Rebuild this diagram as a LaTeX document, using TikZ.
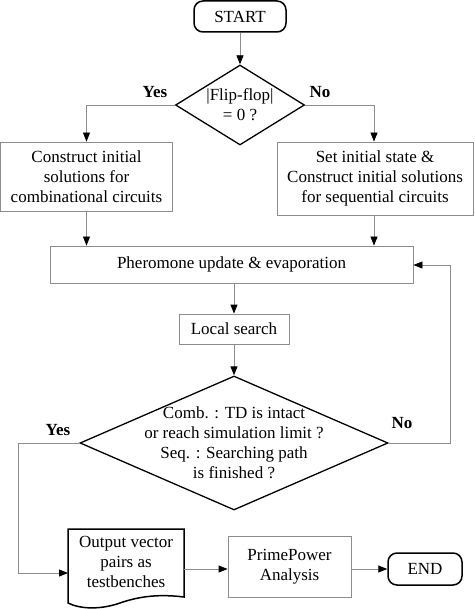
\documentclass[tikz,border=0pt]{standalone}
\usepackage{fontspec}
\setmainfont{Liberation Serif}
\usetikzlibrary{arrows.meta,shapes.geometric}
\begin{document}
\begin{tikzpicture}[x=1pt,y=-1pt,
  every node/.style={font=\fontsize{17}{20}\selectfont, align=center},
  box/.style={draw=black!45, line width=0.8pt, inner sep=0pt},
  term/.style={draw=black, line width=1.5pt, rounded corners=9pt, inner sep=0pt},
  dia/.style={draw=black, line width=1.3pt, diamond, inner sep=0pt},
  conn/.style={draw=black!45, line width=0.8pt, -{Triangle[length=9pt,width=7pt,color=black]}},
  lbl/.style={font=\fontsize{17}{20}\selectfont\bfseries}]
\useasboundingbox (0,0) rectangle (474,609);
\node[term, minimum width=92pt, minimum height=31pt] (start) at (240,16.5) {START};
\node[dia, minimum width=129pt, minimum height=80pt] (d1) at (240,105) {};
\node (d1t) at (240,105) {|Flip-flop|\\= 0 ?};
\node[box, minimum width=172pt, minimum height=69pt] (lbox) at (86.5,176.5) {Construct initial\\solutions for\\combinational circuits};
\node[box, minimum width=196pt, minimum height=73pt] (rbox) at (375,178.5) {Set initial state \&\\Construct initial solutions\\for sequential circuits};
\node[box, minimum width=363pt, minimum height=37pt] (pher) at (231.5,264.5) {Pheromone update \& evaporation};
\node[box, minimum width=110pt, minimum height=30pt] (local) at (234,329) {Local search};
\node[dia, minimum width=308pt, minimum height=134pt] (d2) at (234,443) {};
\node (d2t) at (234,443) {Comb. : TD is intact\\or reach simulation limit ?\\Seq. : Searching path\\is finished ?};
\coordinate (docw) at (68,573);
\draw[black, line width=1.5pt] (68,529) -- (184,529) -- (184,597)
  .. controls (160,594) and (140,596) .. (120,603)
  .. controls (100,610) and (80,609) .. (68,603) -- cycle;
\node (doc) at (126,562) {Output vector\\pairs as\\testbenches};
\coordinate (doce) at (184,569);
\node[box, minimum width=123pt, minimum height=61pt] (prime) at (289.5,566.5) {PrimePower\\Analysis};
\node[term, minimum width=74pt, minimum height=32pt] (end) at (425,569) {END};
% connectors
\draw[conn] (start.south) -- (d1.north);
\draw[conn] (d1.west) -| (lbox.north);
\draw[conn] (d1.east) -| (rbox.north -| 374,0);
\draw[conn] (lbox.south) -- (lbox.south |- pher.north);
\draw[conn] (374,0 |- rbox.south) -- (374,0 |- pher.north);
\draw[conn] (local.north |- pher.south) -- (local.north);
\draw[conn] (local.south) -- (d2.north);
\draw[conn] (d2.east) -- (450,443) -- (450,265) -- (pher.east |- 0,265);
\draw[conn] (d2.west) -- (18,443) -- (18,573) -- (docw);
\draw[conn] (doce) -- (prime.west |- doce);
\draw[conn] (prime.east |- end.west) -- (end.west);
\node[lbl] (yes1) at (155,92) {Yes};
\node[lbl] (no1) at (320,92) {No};
\node[lbl] (yes2) at (58,430) {Yes};
\node[lbl] (no2) at (402,423) {No};
\end{tikzpicture}
\end{document}
